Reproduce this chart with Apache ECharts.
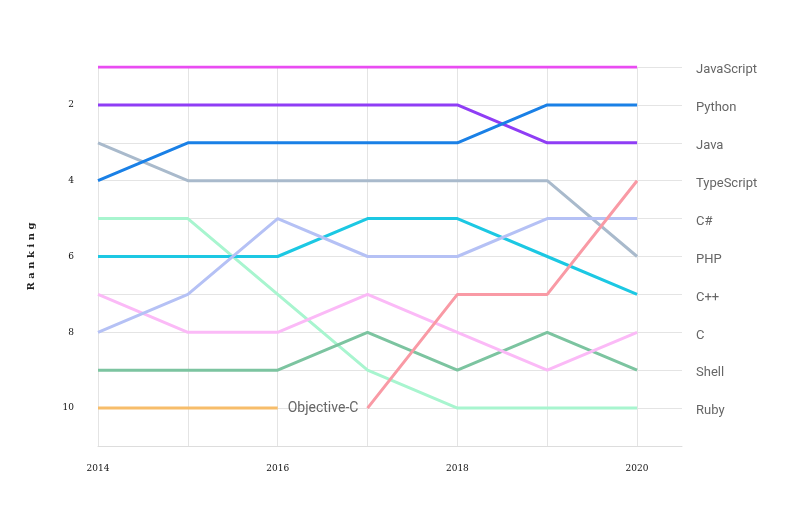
<!DOCTYPE html>
<html>
<head>
<meta charset="utf-8">
<script src="https://cdn.jsdelivr.net/npm/echarts@6/dist/echarts.min.js"></script>
<style>
  html, body { margin: 0; padding: 0; background: #fff; }
  #chart { width: 800px; height: 518px; }
</style>
</head>
<body>
<div id="chart"></div>
<script>
// years on the x axis
var years = [2014, 2015, 2016, 2017, 2018, 2019, 2020];

// rank of each language per year (null = not in the top 10)
var javascript = [1, 1, 1, 1, 1, 1, 1];
var python = [4, 3, 3, 3, 3, 2, 2];
var java = [2, 2, 2, 2, 2, 3, 3];
var typescript = [null, null, null, 10, 7, 7, 4];
var csharp = [8, 7, 5, 6, 6, 5, 5];
var php = [3, 4, 4, 4, 4, 4, 6];
var cpp = [6, 6, 6, 5, 5, 6, 7];
var cLang = [7, 8, 8, 7, 8, 9, 8];
var shell = [9, 9, 9, 8, 9, 8, 9];
var ruby = [5, 5, 7, 9, 10, 10, 10];
var objc = [10, 10, 10, null, null, null, null];

// labels on the right, in 2020 rank order
var rightLabels = ['JavaScript', 'Python', 'Java', 'TypeScript', 'C#', 'PHP', 'C++', 'C', 'Shell', 'Ruby'];

var langs = [
    {name: 'Objective-C', data: objc, color: '#f7bd6a'},
    {name: 'Ruby', data: ruby, color: '#a8f5cf'},
    {name: 'Shell', data: shell, color: '#7cc4a0'},
    {name: 'C', data: cLang, color: '#fbbaf7'},
    {name: 'C++', data: cpp, color: '#1cc8e3'},
    {name: 'PHP', data: php, color: '#a9bacc'},
    {name: 'C#', data: csharp, color: '#b5c1f5'},
    {name: 'TypeScript', data: typescript, color: '#f99aa5'},
    {name: 'Java', data: java, color: '#8f3df5'},
    {name: 'Python', data: python, color: '#1a80e6'},
    {name: 'JavaScript', data: javascript, color: '#e94cf2'}
];

function pairs(arr) {
    var out = [];
    for (var i = 0; i < years.length; i++) {
        out.push([years[i], arr[i]]);
    }
    return out;
}

var series = langs.map(function (l) {
    var s = {
        name: l.name,
        type: 'line',
        data: pairs(l.data),
        showSymbol: false,
        symbol: 'none',
        connectNulls: false,
        lineStyle: {width: 3, color: l.color},
        itemStyle: {color: l.color},
        emphasis: {disabled: true}
    };
    if (l.name === 'Objective-C') {
        s.endLabel = {
            show: true,
            formatter: '{a}',
            color: '#666',
            fontSize: 14,
            fontFamily: 'Roboto',
            distance: 10,
            padding: [3, 0, 0, 0]
        };
    }
    return s;
});

var mychart = echarts.init(document.getElementById('chart'));
var option = {
    backgroundColor: '#fff',
    animation: false,
    grid: {left: 98, right: 118, top: 67, bottom: 72},
    xAxis: {
        type: 'value',
        min: 2014,
        max: 2020.5,
        interval: 1,
        axisLine: {show: true, lineStyle: {color: '#ddd'}},
        axisTick: {show: false},
        splitLine: {show: true, showMaxLine: false, lineStyle: {color: '#e4e4e4', width: 1}},
        axisLabel: {
            margin: 18,
            fontSize: 9,
            fontFamily: 'DejaVu Serif',
            color: '#111',
            formatter: function (v) {
                return (v % 2 === 0 && v <= 2020) ? String(v) : '';
            }
        }
    },
    yAxis: [{
        type: 'value',
        inverse: true,
        min: 1,
        max: 11,
        interval: 1,
        name: 'R a n k i n g',
        nameLocation: 'middle',
        nameGap: 62,
        nameTextStyle: {fontFamily: 'DejaVu Serif', fontSize: 10, fontWeight: 'bold', color: '#222'},
        axisLine: {show: false},
        axisTick: {show: false},
        splitLine: {show: true, lineStyle: {color: '#e4e4e4', width: 1}},
        axisLabel: {
            margin: 24,
            fontSize: 9,
            fontFamily: 'DejaVu Serif',
            color: '#111',
            formatter: function (v) {
                return (v % 2 === 0 && v <= 10) ? String(v) : '';
            }
        }
    }, {
        type: 'value',
        inverse: true,
        position: 'right',
        min: 1,
        max: 11,
        interval: 1,
        axisLine: {show: false},
        axisTick: {show: false},
        splitLine: {show: false},
        axisLabel: {
            margin: 14,
            align: 'left',
            formatter: function (v) {
                var n = rightLabels[v - 1];
                return n ? '{n|' + n + '}' : '';
            },
            rich: {
                n: {fontSize: 13, fontFamily: 'Roboto', color: '#666', padding: [6, 0, 0, 0]}
            }
        }
    }],
    series: series
};
mychart.setOption(option);
</script>
</body>
</html>
